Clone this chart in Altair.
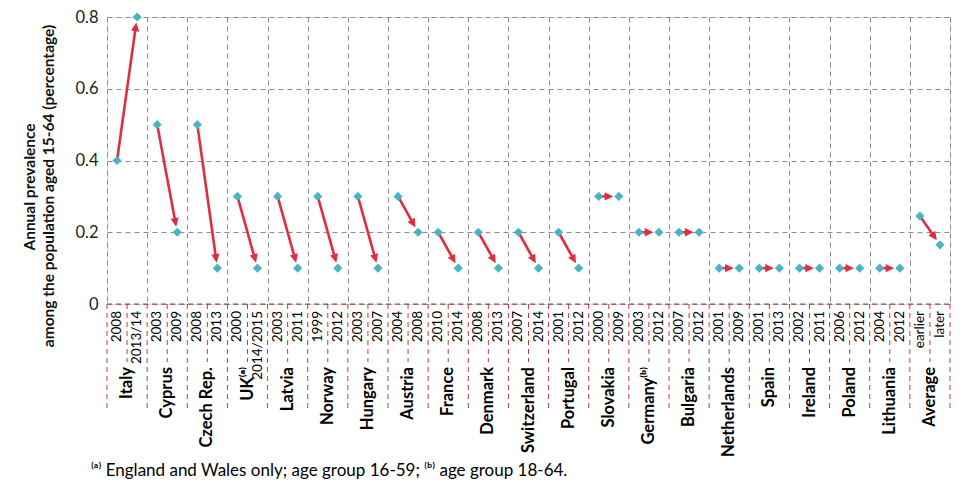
import math
import altair as alt
import pandas as pd

# ---------------- data ----------------
countries = ["Italy", "Cyprus", "Czech Rep.", "UK⁽ᵃ⁾", "Latvia", "Norway", "Hungary",
             "Austria", "France", "Denmark", "Switzerland", "Portugal", "Slovakia",
             "Germany⁽ᵇ⁾", "Bulgaria", "Netherlands", "Spain", "Ireland", "Poland",
             "Lithuania", "Average"]
earlier_year = ["2008", "2003", "2008", "2000", "2003", "1999", "2003", "2004", "2010",
                "2008", "2007", "2001", "2000", "2003", "2007", "2001", "2001", "2002",
                "2006", "2004", "earlier"]
later_year = ["2013/14", "2009", "2013", "2014/2015", "2011", "2012", "2007", "2008",
              "2014", "2013", "2014", "2012", "2009", "2012", "2012", "2009", "2013",
              "2011", "2012", "2012", "later"]
earlier_val = [0.4, 0.5, 0.5, 0.3, 0.3, 0.3, 0.3, 0.3, 0.2, 0.2, 0.2, 0.2, 0.3, 0.2,
               0.2, 0.1, 0.1, 0.1, 0.1, 0.1, 0.245]
later_val = [0.8, 0.2, 0.1, 0.1, 0.1, 0.1, 0.1, 0.2, 0.1, 0.1, 0.1, 0.1, 0.3, 0.2,
             0.2, 0.1, 0.1, 0.1, 0.1, 0.1, 0.165]
y_ticks = [0, 0.2, 0.4, 0.6, 0.8]
y_title = ["Annual prevalence", "among the population aged 15-64 (percentage)"]
footnote = ["⁽ᵃ⁾ England and Wales only; age group 16-59;  ⁽ᵇ⁾ age group 18-64."]

# ---------------- layout / style ----------------
W, H = 843, 287
NSLOT = 2 * len(countries)
YMAX = 0.8
FONT = "Lato"
TEAL = "#4BB3C6"
RED = "#DF2E42"
DASHRED = "#C0394B"
GRID = "#8C8C8C"
px_x = W / NSLOT
px_y = H / YMAX
GAP = 5.5      # px between arrow tip and later point
HEAD = 7.0     # px, portion of line hidden under the head

# ---------------- tables ----------------
pts, arrows, years, names = [], [], [], []
for i, c in enumerate(countries):
    xe, xl = 2 * i + 0.5, 2 * i + 1.5
    ye, yl = earlier_val[i], later_val[i]
    pts += [{"x": xe, "y": ye}, {"x": xl, "y": yl}]
    years += [{"x": xe, "t": earlier_year[i]}, {"x": xl, "t": later_year[i]}]
    names.append({"x": 2 * i + 1, "t": c})
    dxp = (xl - xe) * px_x
    dyp = (yl - ye) * px_y
    L = math.hypot(dxp, dyp)
    ft = (L - GAP) / L
    fl = (L - GAP - HEAD) / L
    ang = math.degrees(math.atan2(dxp, dyp))
    arrows.append({
        "x": xe, "y": ye,
        "x2": xe + fl * (xl - xe), "y2": ye + fl * (yl - ye),
        "xt": xe + ft * (xl - xe), "yt": ye + ft * (yl - ye),
        "ang": ang,
    })

pts = pd.DataFrame(pts)
arrows = pd.DataFrame(arrows)
years = pd.DataFrame(years)
names = pd.DataFrame(names)
bounds = pd.DataFrame({"b": list(range(NSLOT + 1))})
bounds["pair"] = bounds["b"] % 2 == 0
foot = pd.DataFrame({"t": footnote})
t1 = pd.DataFrame({"t": [y_title[0]]})
t2 = pd.DataFrame({"t": [y_title[1]]})

xscale = alt.Scale(domain=[0, NSLOT], nice=False, zero=False)
yscale = alt.Scale(domain=[0, YMAX], nice=False)

base_grid = alt.Chart(bounds).mark_rule(opacity=0).encode(
    x=alt.X("b:Q", scale=xscale,
            axis=alt.Axis(values=list(range(NSLOT + 1)), grid=True, gridDash=[5, 4],
                          gridColor=GRID, gridWidth=1, labels=False, ticks=False,
                          domain=False, title=None)),
    y=alt.Y("b:Q", scale=yscale,
            axis=alt.Axis(values=y_ticks, grid=True, gridDash=[5, 4], gridColor=GRID,
                          gridWidth=1, ticks=False, domain=False, labelPadding=9,
                          labelFont=FONT, labelFontSize=16.5, labelColor="#222",
                          labelExpr="datum.value == 0 ? '0' : format(datum.value, '.1f')",
                          title=None)),
).transform_filter("datum.b < 0")

below_pair = alt.Chart(bounds).mark_rule(color=DASHRED, strokeDash=[5, 4], strokeWidth=1).encode(
    x="b:Q", y=alt.value(H), y2=alt.value(H + 108)
).transform_filter("datum.pair")

below_mid = alt.Chart(bounds).mark_rule(color=DASHRED, strokeDash=[5, 4], strokeWidth=1).encode(
    x="b:Q", y=alt.value(H), y2=alt.value(H + 58)
).transform_filter("!datum.pair")

zero_line = alt.Chart(foot).mark_rule(color=DASHRED, strokeDash=[5, 4], strokeWidth=1).encode(
    x=alt.datum(0), x2=alt.datum(NSLOT), y=alt.datum(0)
)

lines = alt.Chart(arrows).mark_rule(color=RED, strokeWidth=2.6).encode(
    x="x:Q", y="y:Q", x2="x2:Q", y2="y2:Q"
)

heads = alt.Chart(arrows).mark_point(
    shape="M0,0L0.57,1.2L-0.57,1.2Z", filled=True, color=RED, opacity=1, size=210,
    strokeWidth=0
).encode(x="xt:Q", y="yt:Q", angle=alt.Angle("ang:Q", scale=None))

diamonds = alt.Chart(pts).mark_point(
    shape="diamond", filled=True, color=TEAL, opacity=1, size=85, strokeWidth=0
).encode(x="x:Q", y="y:Q")

year_txt = alt.Chart(years).mark_text(
    angle=270, align="right", baseline="middle", font=FONT, fontSize=13.5, color="#000"
).encode(x="x:Q", y=alt.value(H + 7), text="t:N")

name_txt = alt.Chart(names).mark_text(
    angle=270, align="right", baseline="middle", font=FONT, fontSize=16.5,
    fontWeight="bold", color="#000"
).encode(x="x:Q", y=alt.value(H + 63), text="t:N")

title1 = alt.Chart(t1).mark_text(
    angle=270, align="center", baseline="middle", font=FONT, fontSize=15.5,
    fontWeight="bold", color="#111"
).encode(x=alt.value(-77), y=alt.value(170), text="t:N")

title2 = alt.Chart(t2).mark_text(
    angle=270, align="center", baseline="middle", font=FONT, fontSize=15.5,
    fontWeight="bold", color="#111"
).encode(x=alt.value(-58), y=alt.value(169), text="t:N")

foot_txt = alt.Chart(foot).mark_text(
    align="left", baseline="middle", font=FONT, fontSize=17, color="#000"
).encode(x=alt.value(-16), y=alt.value(H + 167), text="t:N")

chart = alt.layer(
    base_grid, below_pair, below_mid, zero_line, lines, heads, diamonds,
    year_txt, name_txt, title1, title2, foot_txt
).properties(
    width=W, height=H,
    padding={"left": 99, "top": 9, "right": 8, "bottom": 185},
    autosize=alt.AutoSizeParams(type="none"),
).configure_view(stroke=None).configure(background="white")

chart.save("out.html", embed_options={"renderer": "svg", "actions": False})
